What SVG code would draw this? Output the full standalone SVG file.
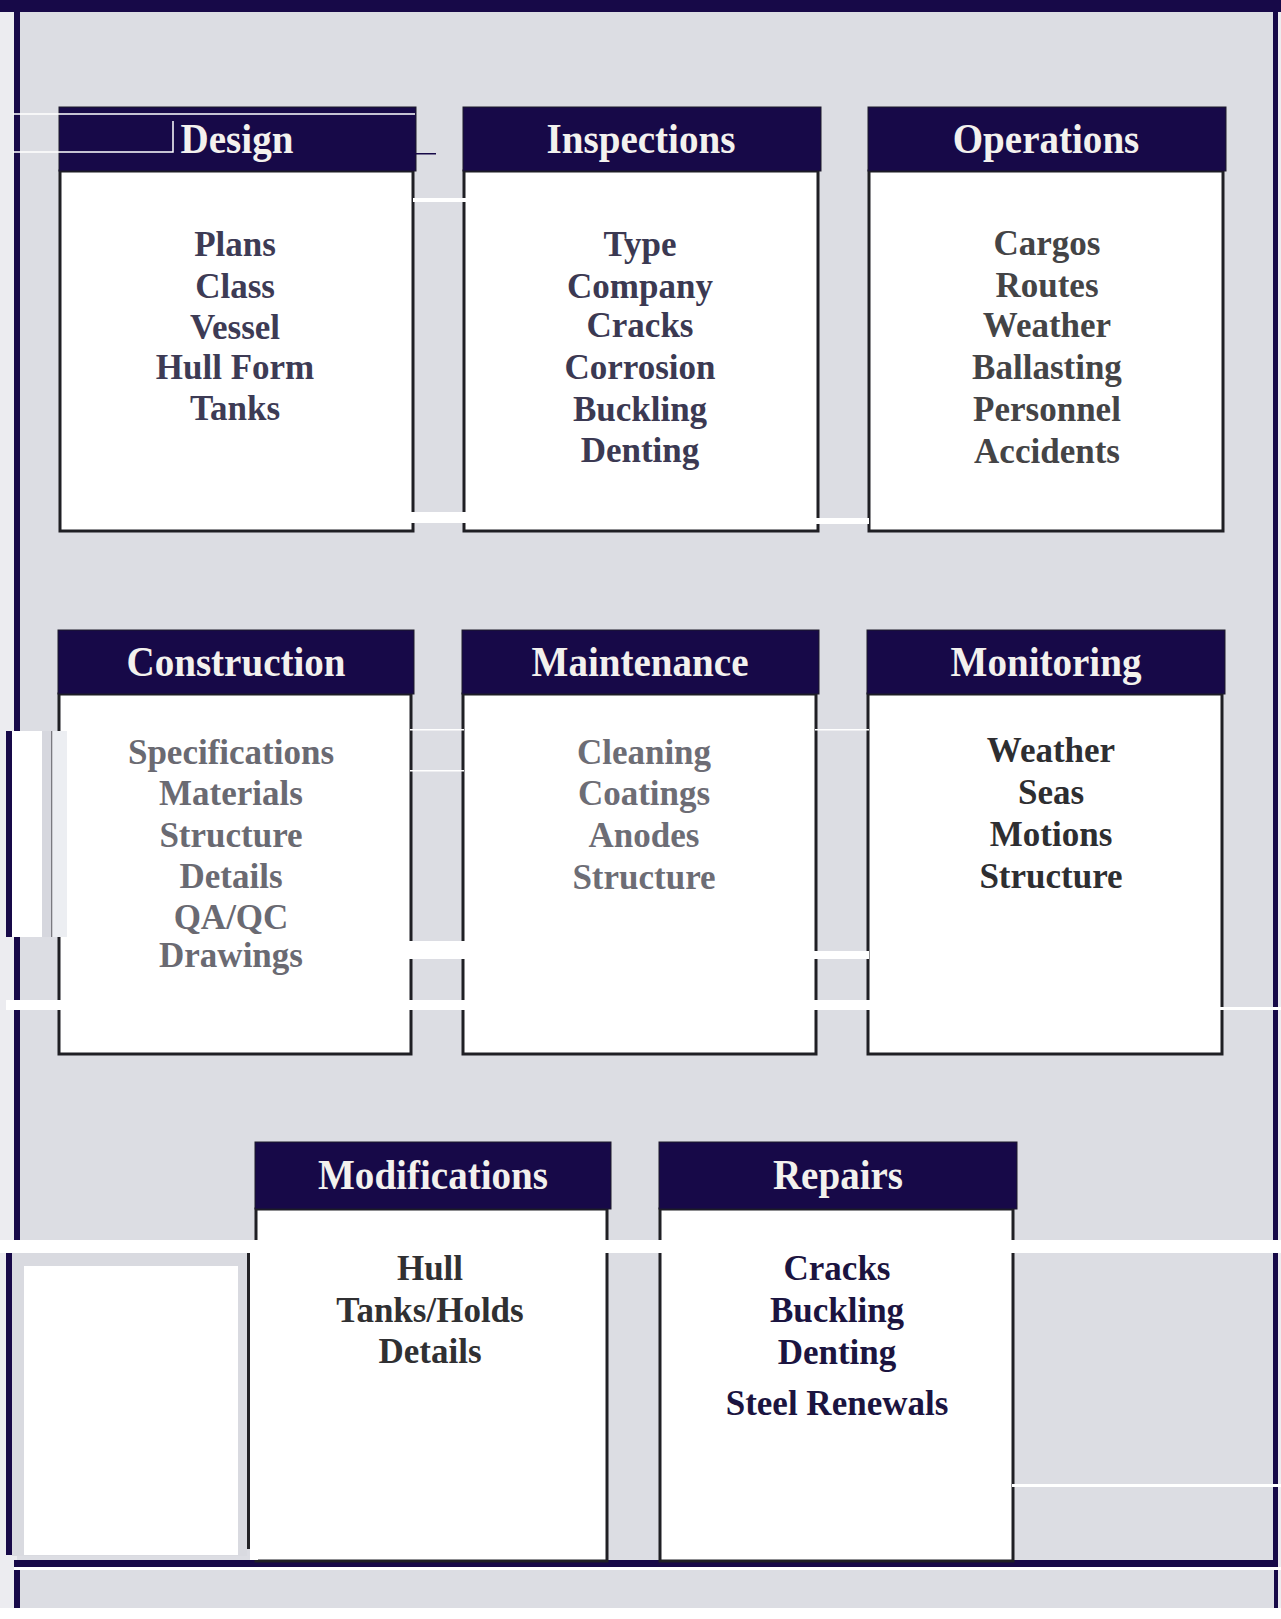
<svg xmlns="http://www.w3.org/2000/svg" width="1281" height="1619" viewBox="0 0 1281 1619">
<style>
.hdr{fill:#170948;stroke:#1c1a2a;stroke-width:1}
.body{fill:#ffffff;stroke:#1f1f24;stroke-width:3}
.title{font-family:"Liberation Serif","Times New Roman",serif;font-weight:bold;font-size:42px;fill:#f3f1ee;text-anchor:middle}
.item{font-family:"Liberation Serif","Times New Roman",serif;font-weight:bold;font-size:35px;text-anchor:middle}
.navy{fill:#170948}
.wht{fill:#ffffff}
.wline{fill:none;stroke:#ffffff;stroke-width:1.5}
</style>
<!-- page frame -->
<rect x="0" y="0" width="1281" height="1619" fill="#ececf0"/>
<rect x="17" y="10" width="1259" height="1598" fill="#dcdde3"/>
<rect x="0" y="1608" width="1281" height="11" fill="#ffffff"/>
<rect class="navy" x="0" y="0" width="1281" height="12"/>
<rect class="navy" x="14" y="0" width="6" height="1240"/>
<rect class="navy" x="1273" y="0" width="5" height="1567"/>
<rect class="navy" x="14" y="1560" width="1264" height="7"/>
<rect x="14" y="1567" width="1267" height="3" fill="#ffffff"/>
<rect class="navy" x="14" y="1570" width="6" height="38"/>
<rect class="navy" x="1274" y="1570" width="4" height="38"/>

<g id="design">
<rect class="body" x="60" y="171" width="353" height="360"/>
<rect class="hdr" x="59" y="107" width="357" height="64"/>
<text class="title" transform="translate(237,153) scale(0.93,1)" x="0" y="0">Design</text>
<text class="item" fill="#3d3b55"><tspan x="235" y="256">Plans</tspan><tspan x="235" y="298">Class</tspan><tspan x="235" y="339">Vessel</tspan><tspan x="235" y="379">Hull Form</tspan><tspan x="235" y="420">Tanks</tspan></text>
</g>
<g id="inspections">
<rect class="body" x="464" y="171" width="354" height="360"/>
<rect class="hdr" x="463" y="107" width="358" height="64"/>
<text class="title" transform="translate(641,153) scale(0.93,1)" x="0" y="0">Inspections</text>
<text class="item" fill="#3b3952"><tspan x="640" y="256">Type</tspan><tspan x="640" y="298">Company</tspan><tspan x="640" y="337">Cracks</tspan><tspan x="640" y="379">Corrosion</tspan><tspan x="640" y="421">Buckling</tspan><tspan x="640" y="462">Denting</tspan></text>
</g>
<g id="operations">
<rect class="body" x="869" y="171" width="354" height="360"/>
<rect class="hdr" x="868" y="107" width="358" height="64"/>
<text class="title" transform="translate(1046,153) scale(0.93,1)" x="0" y="0">Operations</text>
<text class="item" fill="#444446"><tspan x="1047" y="255">Cargos</tspan><tspan x="1047" y="297">Routes</tspan><tspan x="1047" y="337">Weather</tspan><tspan x="1047" y="379">Ballasting</tspan><tspan x="1047" y="421">Personnel</tspan><tspan x="1047" y="463">Accidents</tspan></text>
</g>

<g id="construction">
<rect class="body" x="59" y="694" width="352" height="360"/>
<rect class="hdr" x="58" y="630" width="356" height="64"/>
<text class="title" transform="translate(236,676) scale(0.93,1)" x="0" y="0">Construction</text>
<text class="item" fill="#6a6a72"><tspan x="231" y="764">Specifications</tspan><tspan x="231" y="805">Materials</tspan><tspan x="231" y="847">Structure</tspan><tspan x="231" y="888">Details</tspan><tspan x="231" y="929">QA/QC</tspan><tspan x="231" y="967">Drawings</tspan></text>
</g>
<g id="maintenance">
<rect class="body" x="463" y="694" width="353" height="360"/>
<rect class="hdr" x="462" y="630" width="357" height="64"/>
<text class="title" transform="translate(640,676) scale(0.93,1)" x="0" y="0">Maintenance</text>
<text class="item" fill="#6d6d75"><tspan x="644" y="764">Cleaning</tspan><tspan x="644" y="805">Coatings</tspan><tspan x="644" y="847">Anodes</tspan><tspan x="644" y="889">Structure</tspan></text>
</g>
<g id="monitoring">
<rect class="body" x="868" y="694" width="354" height="360"/>
<rect class="hdr" x="867" y="630" width="358" height="64"/>
<text class="title" transform="translate(1046,676) scale(0.93,1)" x="0" y="0">Monitoring</text>
<text class="item" fill="#2e2e31"><tspan x="1051" y="762">Weather</tspan><tspan x="1051" y="804">Seas</tspan><tspan x="1051" y="846">Motions</tspan><tspan x="1051" y="888">Structure</tspan></text>
</g>

<g id="modifications">
<rect class="body" x="256" y="1209" width="351" height="352"/>
<rect class="hdr" x="255" y="1142" width="356" height="67"/>
<text class="title" transform="translate(433,1189) scale(0.93,1)" x="0" y="0">Modifications</text>
<text class="item" fill="#303032"><tspan x="430" y="1280">Hull</tspan><tspan x="430" y="1322">Tanks/Holds</tspan><tspan x="430" y="1363">Details</tspan></text>
</g>
<g id="repairs">
<rect class="body" x="660" y="1209" width="353" height="352"/>
<rect class="hdr" x="659" y="1142" width="358" height="67"/>
<text class="title" transform="translate(838,1189) scale(0.93,1)" x="0" y="0">Repairs</text>
<text class="item" fill="#1b1440"><tspan x="837" y="1280">Cracks</tspan><tspan x="837" y="1322">Buckling</tspan><tspan x="837" y="1364">Denting</tspan><tspan x="837" y="1415">Steel Renewals</tspan></text>
</g>

<g id="connectors"></g>

<g id="scan-marks">
<path class="wline" d="M13 114 H415 M13 152 H173 V121"/>
<rect class="navy" x="415" y="153" width="21" height="1.5"/>
<rect class="wht" x="413" y="198" width="53" height="4"/>
<rect class="wht" x="411" y="512" width="56" height="11"/>
<rect class="wht" x="779" y="518" width="90" height="6"/>
<rect class="navy" x="6" y="731" width="6" height="206"/>
<rect class="wht" x="12" y="731" width="30" height="206"/>
<rect x="42" y="731" width="9" height="206" fill="#d6d7de"/>
<rect x="51" y="731" width="1.5" height="206" fill="#7a7a80"/>
<rect x="52.5" y="731" width="14.5" height="206" fill="#eceef2"/>
<rect class="wht" x="410" y="729" width="54" height="1.5"/>
<rect class="wht" x="410" y="770" width="54" height="1.5"/>
<rect class="wht" x="815" y="729" width="54" height="1.5"/>
<rect class="wht" x="408" y="941" width="57" height="18"/>
<rect class="wht" x="813" y="951" width="56" height="8"/>
<rect class="wht" x="6" y="1000" width="1214" height="10"/>
<rect class="wht" x="1220" y="1007" width="61" height="3"/>
<rect class="wht" x="0" y="1240" width="1281" height="13"/>
<rect class="navy" x="6" y="1253" width="6" height="302"/>
<rect x="12" y="1253" width="235" height="303" fill="#d9dae0"/>
<rect class="wht" x="24" y="1266" width="214" height="289"/>
<rect x="247" y="1253" width="3" height="296" fill="#222226"/>
<rect class="wht" x="250" y="1253" width="8" height="307"/>
<rect class="wht" x="1012" y="1484" width="269" height="3"/>
</g>
</svg>
